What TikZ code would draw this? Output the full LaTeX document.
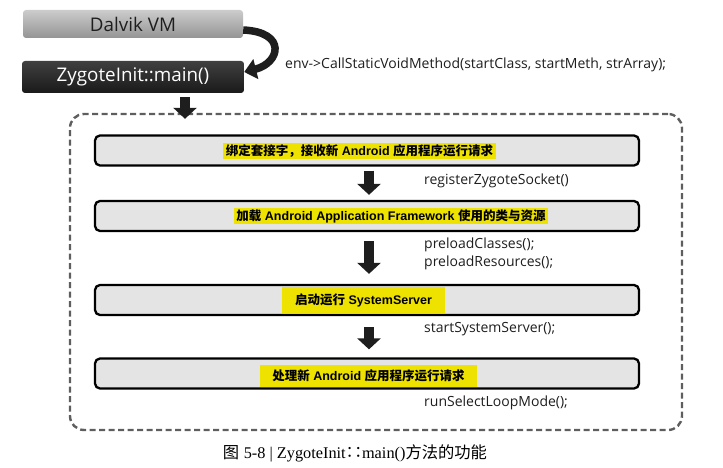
\documentclass[tikz,border=0pt]{standalone}
\usepackage{fontspec}
\setmainfont{Liberation Sans}
\newfontfamily\cjk{Noto Sans CJK SC}
\newfontfamily\lab{Open Sans}
\newfontfamily\serif{Liberation Serif}
\usetikzlibrary{arrows.meta}
\definecolor{boxgray}{HTML}{E4E4E4}
\definecolor{hlyellow}{HTML}{EEE200}
\definecolor{dashgray}{HTML}{5E5E5E}
\definecolor{inkdark}{HTML}{1E1E1E}
\begin{document}
\begin{tikzpicture}[x=1pt,y=-1pt,
  topbox/.style={rounded corners=3pt, minimum width=220pt, inner sep=0pt,
    font=\lab\fontsize{18.8}{22}\selectfont},
  stepbox/.style={draw=black, line width=2.3pt, rounded corners=5pt, fill=boxgray,
    minimum width=544pt, minimum height=30pt, inner sep=0pt},
  hl/.style={fill=hlyellow, inner sep=0pt, font=\bfseries\fontsize{12.5}{14}\selectfont},
  code/.style={font=\lab\fontsize{14}{16.5}\selectfont, anchor=west, inner sep=0pt, text=inkdark},
  blockarrow/.style={line width=10pt, draw=inkdark, -{Triangle[width=23pt,length=11pt]}},
  dashbox/.style={draw=dashgray, line width=2.4pt, dash pattern=on 6pt off 3.5pt,
    rounded corners=14pt, minimum width=612pt, minimum height=316pt, inner sep=0pt}
]
\useasboundingbox (0,0) rectangle (723,468);

% top boxes
\node[topbox, minimum height=28pt, top color=black!20, bottom color=black!42, text=inkdark] (dv) at (133,24) {Dalvik VM};
\node[topbox, minimum width=222pt, minimum height=32pt, top color=black!75, bottom color=black!90, text=white] (zy) at (133,77) {ZygoteInit::main()};

% curved call arrow
\draw[line width=7.5pt, draw=inkdark, -{Triangle[width=20pt,length=12pt]}]
  ([yshift=-6pt]dv.east) .. controls +(44,2) and +(36,-9) .. ([yshift=5pt]zy.east);
\node[code, anchor=west] (env) at (285,65) {env->CallStaticVoidMethod(startClass, startMeth, strArray);};

% container
\node[dashbox] (cont) at (376,272) {};

\coordinate (ta) at (185,0);
\draw[blockarrow, shorten <=4pt, shorten >=-6pt] (zy.south -| ta) -- (cont.north -| ta);

% steps
\node[stepbox] (s1) at (367,150.5) {};
\node[stepbox] (s2) at (367,216) {};
\node[stepbox] (s3) at (367,300) {};
\node[stepbox] (s4) at (367,373.5) {};

\node[hl, minimum width=273pt, minimum height=16pt] (h1) at (359.5,151)
  {{\cjk 绑定套接字，接收新} Android {\cjk 应用程序运行请求}};
\node[hl, minimum width=314pt, minimum height=16pt] (h2) at (391,216)
  {{\cjk 加载} Android Application Framework {\cjk 使用的类与资源}};
\node[hl, minimum width=163pt, minimum height=26pt] (h3) at (363.5,300)
  {{\cjk 启动运行} SystemServer};
\node[hl, minimum width=217pt, minimum height=22pt] (h4) at (368.5,376)
  {{\cjk 处理新} Android {\cjk 应用程序运行请求}};

\coordinate (ax) at (369,0);
\draw[blockarrow, shorten <=4pt, shorten >=5pt] (s1.south -| ax) -- (s2.north -| ax);
\draw[blockarrow, shorten <=9pt, shorten >=10pt] (s2.south -| ax) -- (s3.north -| ax);
\draw[blockarrow, shorten <=11pt, shorten >=8pt] (s3.south -| ax) -- (s4.north -| ax);

\node[code] (l1) at (424,181) {registerZygoteSocket()};
\node[code] (l2a) at (424,245) {preloadClasses();};
\node[code] (l2b) at (424,263) {preloadResources();};
\node[code] (l3) at (424,329) {startSystemServer();};
\node[code] (l4) at (424,403) {runSelectLoopMode();};

% caption
\node[inner sep=0pt, font=\fontsize{16.3}{18}\selectfont] (cap) at (355,453)
  {{\cjk 图} {\serif 5-8 | ZygoteInit}{\cjk ∷}{\serif main()}{\cjk 方法的功能}};
\end{tikzpicture}
\end{document}
